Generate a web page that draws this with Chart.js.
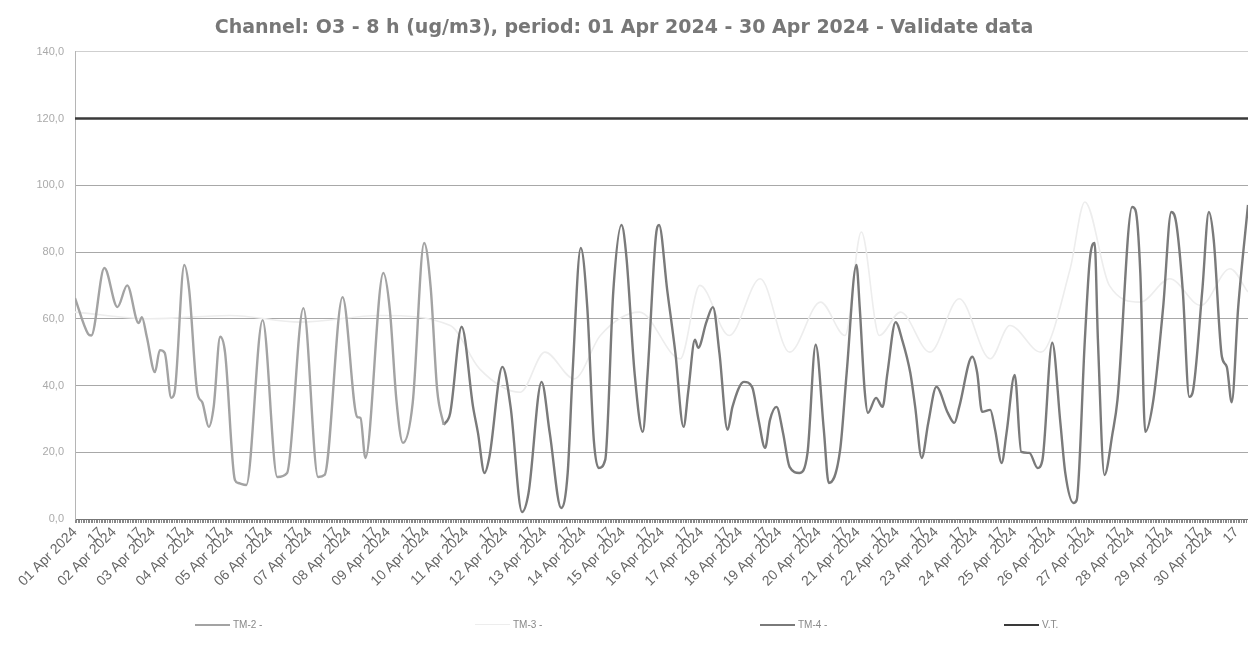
<!DOCTYPE html>
<html>
<head>
<meta charset="utf-8">
<script src="https://cdn.jsdelivr.net/npm/chart.js@4.4.1/dist/chart.umd.min.js"></script>
<style>
  body { margin: 0; background: #fff; }
  #wrap { position: relative; width: 1248px; height: 657px; }
  .legend-item { position: absolute; top: 619px; display: flex; align-items: center; font: 10px "Liberation Sans", Arial, sans-serif; color: #888; }
  .legend-item span.swatch { display: inline-block; width: 35px; margin-right: 3px; }
</style>
</head>
<body>
<div id="wrap">
  <canvas id="chart" width="1248" height="657"></canvas>
</div>
<script>
// tick labels
const dayLabels = [
  '01 Apr 2024', '02 Apr 2024', '03 Apr 2024', '04 Apr 2024', '05 Apr 2024', '06 Apr 2024',
  '07 Apr 2024', '08 Apr 2024', '09 Apr 2024', '10 Apr 2024', '11 Apr 2024', '12 Apr 2024',
  '13 Apr 2024', '14 Apr 2024', '15 Apr 2024', '16 Apr 2024', '17 Apr 2024', '18 Apr 2024',
  '19 Apr 2024', '20 Apr 2024', '21 Apr 2024', '22 Apr 2024', '23 Apr 2024', '24 Apr 2024',
  '25 Apr 2024', '26 Apr 2024', '27 Apr 2024', '28 Apr 2024', '29 Apr 2024', '30 Apr 2024'
];
const hourLabel = '17';
const totalHours = 720;

// TM-2 (hour index from 01 Apr 00h, ug/m3)
const tm2Hours = [0, 8, 10, 18, 26, 32, 39, 41, 44, 49, 52, 55, 59, 61, 67, 70, 75, 78, 82, 85, 89, 92,
  98, 100, 105, 115, 124, 130, 140, 149, 153, 164, 173, 175, 178, 189, 193, 197, 201, 207, 214, 218, 222, 226];
const tm2Values = [66.2, 55.5, 55, 75.2, 63.5, 70, 58.7, 60.5, 54.6, 44, 50.6, 49.8, 36.3, 37.8, 76.1, 68.6, 37.8, 35, 27.6, 33.6, 54.6, 49.8,
  11.7, 10.8, 10.2, 59.6, 12.6, 13.8, 63.2, 12.6, 13.2, 66.5, 30.6, 30.3, 18.3, 73.7, 62.6, 35.7, 22.8, 34.8, 82.7, 69.5, 38.7, 28.2];

// TM-3 (very faint in the scan)
const tm3Hours = [0, 46, 95, 138, 187, 230, 248, 273, 288, 306, 322, 346, 371, 383, 401, 420, 438, 457, 472, 482,
  493, 506, 524, 542, 561, 573, 592, 610, 619, 634, 653, 671, 690, 708, 719];
const tm3Values = [62, 60, 61, 59, 61, 58, 45, 38, 50, 42, 55, 62, 48, 70, 55, 72, 50, 65, 55, 86,
  55, 62, 50, 66, 48, 58, 50, 75, 95, 70, 65, 72, 64, 75, 68];

// TM-4
const tm4Hours = [226, 230, 237, 244, 247, 251, 254, 262, 267, 274, 278, 286, 291, 298, 302, 305, 310, 314, 318, 321,
  325, 330, 335, 338, 343, 348, 351, 356, 358, 363, 368, 373, 376, 380, 382, 387, 391, 395, 400, 403,
  410, 415, 419, 423, 426, 430, 434, 438, 444, 449, 454, 459, 462, 469, 473, 479, 481, 484, 486, 491,
  495, 498, 503, 507, 512, 515, 519, 523, 528, 535, 539, 542, 550, 553, 556, 561, 564, 568, 571, 576,
  580, 585, 590, 593, 599, 604, 607, 612, 614, 619, 622, 625, 627, 631, 636, 639, 648, 650, 653, 656,
  661, 667, 672, 675, 679, 683, 685, 691, 695, 698, 703, 706, 709, 713, 719];
const tm4Values = [28.2, 31.8, 57.6, 33.6, 25.8, 13.8, 18.6, 45.6, 33.6, 2.1, 7.8, 41.1, 25.8, 3.3, 13.8, 43.8, 81.2, 63.5, 23.7, 15.3,
  17.7, 68.6, 88.1, 78.5, 43.8, 26.1, 43.8, 84.5, 88.1, 68.6, 49.8, 27.6, 38.7, 53.7, 51.3, 59, 63.5, 49.8, 26.7, 33.6,
  41.1, 39.6, 29.7, 21.3, 29.7, 33.6, 25.8, 15.6, 13.8, 19.8, 52.2, 26.7, 10.8, 20.7, 43.8, 76.1, 63.5, 38.7, 31.8, 36.3,
  33.6, 43.8, 59, 53.7, 43.8, 33.6, 18.3, 28.8, 39.6, 31.8, 28.8, 33.6, 48.6, 43.8, 32.1, 32.7, 26.7, 16.8, 25.8, 43.2,
  20.1, 19.8, 15.3, 17.7, 52.8, 28.8, 13.8, 4.8, 5.7, 53.7, 77.6, 82.7, 53.7, 13.2, 25.8, 35.7, 93.5, 92.6, 73.7, 26.1,
  35.7, 63.5, 92, 88.7, 68.6, 36.6, 37.8, 68.6, 92, 83.6, 48.6, 45.6, 35, 63.5, 94.1];

// V.T. (target value)
const vtHours = [0, 719];
const vtValues = [120, 120];

const toPoints = (hours, values) => hours.map((h, i) => ({ x: h, y: values[i] }));

const data = {
  datasets: [
    {
      label: 'TM-2 -',
      data: toPoints(tm2Hours, tm2Values),
      borderColor: '#a3a3a3',
      borderWidth: 2.4,
      order: 1,
    },
    {
      label: 'TM-3 -',
      data: toPoints(tm3Hours, tm3Values),
      borderColor: '#ededed',
      borderWidth: 1.6,
      order: 3,
    },
    {
      label: 'TM-4 -',
      data: toPoints(tm4Hours, tm4Values),
      borderColor: '#7a7a7a',
      borderWidth: 2.4,
      order: 1,
    },
    {
      label: 'V.T.',
      data: toPoints(vtHours, vtValues),
      borderColor: '#3a3a3a',
      borderWidth: 2.6,
      order: 0,
    },
  ],
};

const options = {
  responsive: false,
  animation: false,
  layout: { padding: 0 },
  elements: {
    point: { radius: 0 },
    line: { cubicInterpolationMode: 'monotone', fill: false },
  },
  scales: {
    x: {
      type: 'linear',
      min: 0,
      max: totalHours - 1,
      afterBuildTicks: (scale) => {
        const ticks = [];
        for (let h = 0; h < totalHours; h++) ticks.push({ value: h });
        scale.ticks = ticks;
      },
      afterFit: (scale) => {
        scale.height = 138;
        scale.paddingRight = 0;
        scale.paddingLeft = 0;
      },
      ticks: {
        autoSkip: false,
        minRotation: 45,
        maxRotation: 45,
        padding: 1,
        color: '#666',
        font: { family: '"Liberation Sans", Arial, sans-serif', size: 14 },
        callback: (value) => {
          const day = Math.floor(value / 24);
          const hour = value % 24;
          if (hour === 0) return dayLabels[day];
          if (hour === 16) return hourLabel;
          return '';
        },
      },
      grid: {
        drawOnChartArea: false,
        drawTicks: true,
        tickLength: 4,
        color: '#888',
      },
      border: { color: '#777', width: 1 },
    },
    y: {
      min: 0,
      max: 140,
      afterFit: (scale) => {
        scale.width = 75;
      },
      ticks: {
        stepSize: 20,
        padding: 11,
        color: '#aaa',
        font: { family: '"Liberation Sans", Arial, sans-serif', size: 11 },
        callback: (value) => value.toFixed(1).replace('.', ','),
      },
      grid: {
        drawTicks: false,
        color: (ctx) => (ctx.tick && ctx.tick.value === 140 ? '#cfcfcf' : '#a8a8a8'),
        lineWidth: 1,
      },
      border: { color: '#b5b5b5', width: 1 },
    },
  },
  plugins: {
    legend: { display: false },
    tooltip: { enabled: false },
    title: {
      display: true,
      text: 'Channel: O3 - 8 h (ug/m3), period: 01 Apr 2024 - 30 Apr 2024 - Validate data',
      color: '#777',
      font: { family: '"DejaVu Sans", Verdana, sans-serif', size: 19, weight: 'bold' },
      padding: { top: 17, bottom: 12 },
    },
  },
};

const chart = new Chart(document.getElementById('chart'), {
  type: 'line',
  data,
  options,
});

// legend spread across the bottom, like the original export
const legendLeft = [195, 475, 760, 1004];
chart.data.datasets.forEach((ds, i) => {
  const item = document.createElement('div');
  item.className = 'legend-item';
  item.style.left = legendLeft[i] + 'px';
  const swatch = document.createElement('span');
  swatch.className = 'swatch';
  swatch.style.borderTop = ds.borderWidth + 'px solid ' + ds.borderColor;
  const text = document.createElement('span');
  text.textContent = ds.label;
  item.appendChild(swatch);
  item.appendChild(text);
  document.getElementById('wrap').appendChild(item);
});
</script>
</body>
</html>
